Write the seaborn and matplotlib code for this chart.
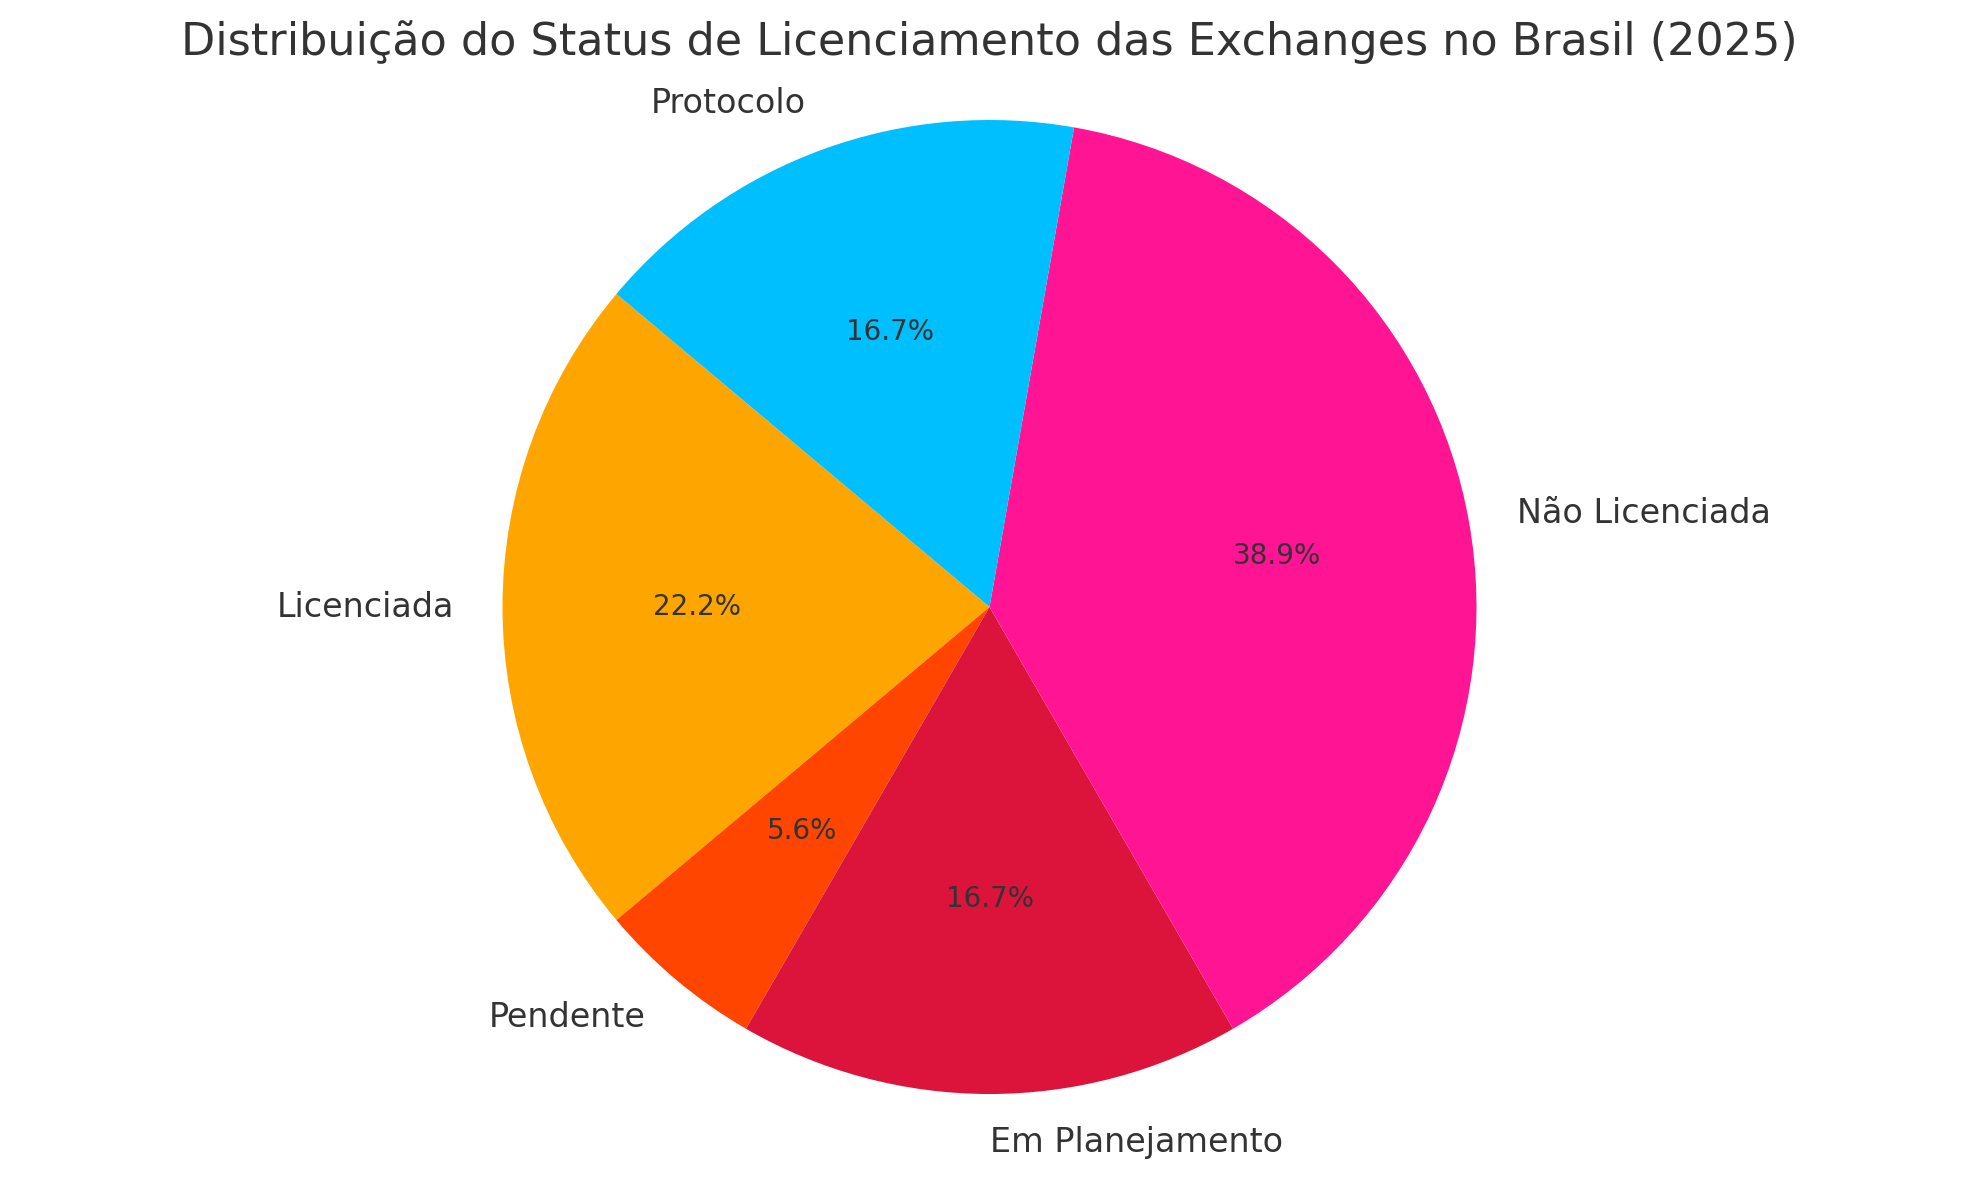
import matplotlib
matplotlib.use("Agg")
import matplotlib.pyplot as plt
import seaborn as sns

# status counts (2025)
status = ["Licenciada", "Pendente", "Em Planejamento", "Não Licenciada", "Protocolo"]
counts = [4, 1, 3, 7, 3]
colors = ["#FFA500", "#FF4500", "#DC143C", "#FF1493", "#00BFFF"]

sns.set_theme(style="white")
plt.rcParams["font.family"] = ["DejaVu Sans"]
text_color = "#333333"

W, H = 1979, 1180
fig = plt.figure(figsize=(W / 100, H / 100), dpi=100)
ax = fig.add_axes([0, 0, 1, 1])

wedges, texts, autotexts = ax.pie(
    counts, labels=status, colors=colors, startangle=140,
    autopct="%1.1f%%", labeldistance=1.1, pctdistance=0.6,
    wedgeprops=dict(linewidth=0),
    textprops=dict(color=text_color, fontsize=24),
)
for t in autotexts:
    t.set_fontsize(20)

# place the pie: radius 487 px, centre at (989.5, 607) from top-left
r, cx, cy = 487.0, 989.5, 607.0
ax.set_xlim(-cx / r, (W - cx) / r)
ax.set_ylim(-(H - cy) / r, cy / r)
ax.set_aspect("auto")
ax.axis("off")

fig.text(0.5, 1 - 55 / H, "Distribuição do Status de Licenciamento das Exchanges no Brasil (2025)",
         ha="center", va="baseline", fontsize=32, color=text_color)

fig.savefig("out.png", dpi=100, facecolor="white")
